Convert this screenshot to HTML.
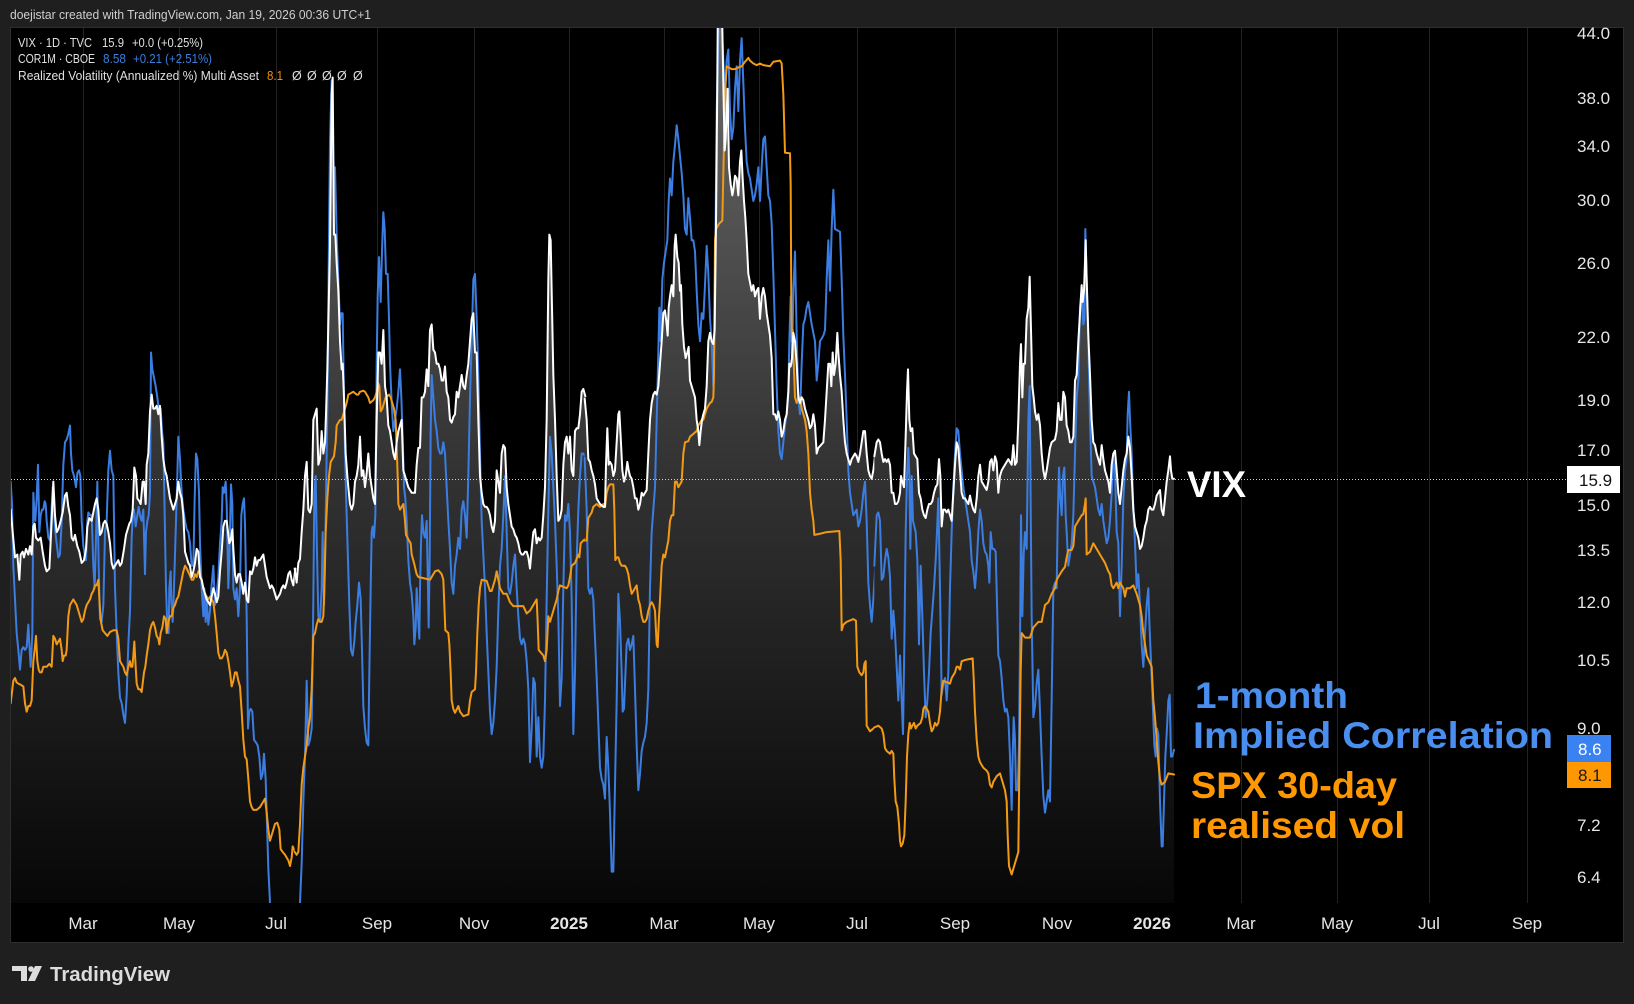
<!DOCTYPE html>
<html><head><meta charset="utf-8"><style>
html,body{margin:0;padding:0;background:#1f1f1f;}
svg{display:block;}
text{font-family:"Liberation Sans",sans-serif;}
</style></head><body>
<svg width="1634" height="1004" viewBox="0 0 1634 1004" xmlns="http://www.w3.org/2000/svg">
<defs>
<clipPath id="plot"><rect x="11" y="28" width="1554" height="875"/></clipPath>
<linearGradient id="fg" gradientUnits="userSpaceOnUse" x1="0" y1="0" x2="0" y2="1562">
<stop offset="0" stop-color="#6a6a6a"/><stop offset="0.5" stop-color="#333"/><stop offset="1" stop-color="#070707"/>
</linearGradient>
</defs>
<rect width="1634" height="1004" fill="#1f1f1f"/>
<text x="10" y="19" font-size="13" fill="#cfcfcf" textLength="361" lengthAdjust="spacingAndGlyphs">doejistar created with TradingView.com, Jan 19, 2026 00:36 UTC+1</text>
<rect x="10.5" y="27.5" width="1613" height="915" fill="#000" stroke="#2e2e2e" stroke-width="1"/>
<g stroke="#222" stroke-width="1">
<line x1="83.5" y1="28" x2="83.5" y2="903"/><line x1="179.5" y1="28" x2="179.5" y2="903"/><line x1="276.5" y1="28" x2="276.5" y2="903"/>
<line x1="377.5" y1="28" x2="377.5" y2="903"/><line x1="474.5" y1="28" x2="474.5" y2="903"/><line x1="569.5" y1="28" x2="569.5" y2="903"/>
<line x1="664.5" y1="28" x2="664.5" y2="903"/><line x1="759.5" y1="28" x2="759.5" y2="903"/><line x1="857.5" y1="28" x2="857.5" y2="903"/>
<line x1="955.5" y1="28" x2="955.5" y2="903"/><line x1="1057.5" y1="28" x2="1057.5" y2="903"/><line x1="1152.5" y1="28" x2="1152.5" y2="903"/>
<line x1="1241.5" y1="28" x2="1241.5" y2="903"/><line x1="1337.5" y1="28" x2="1337.5" y2="903"/><line x1="1429.5" y1="28" x2="1429.5" y2="903"/>
<line x1="1527.5" y1="28" x2="1527.5" y2="903"/>
</g>
<g clip-path="url(#plot)">
<g fill="none" stroke-width="2" stroke-linejoin="round" stroke-linecap="round">
<!-- chunk A -->
<g transform="translate(0,27) scale(0.333333,0.5612)">
<polygon fill="url(#fg)" stroke="none" points="32,860 38,900 45,945 52,940 58,985 62,940 68,935 72,945 78,930 85,940 90,925 95,940 100,890 104,885 108,910 115,915 122,910 128,935 135,960 140,970 148,965 155,880 160,810 165,870 170,900 175,895 182,880 188,865 195,835 200,830 205,855 210,870 215,910 220,915 225,905 232,925 238,935 245,955 252,950 258,930 262,890 268,875 275,880 280,865 285,850 290,840 295,860 300,905 305,900 310,885 315,880 320,885 325,900 330,920 335,955 340,965 345,960 350,955 355,950 360,960 365,955 372,930 378,905 383,895 388,885 393,880 398,860 403,785 408,800 412,840 418,845 422,850 428,810 432,810 437,850 440,780 445,760 450,685 455,655 460,680 465,680 470,675 475,690 480,675 485,730 490,770 495,790 500,800 505,820 510,840 515,850 520,860 525,850 530,840 535,810 540,830 545,840 550,870 555,935 560,945 565,955 570,960 575,980 580,970 585,955 590,930 595,935 600,980 605,985 610,1000 615,1010 620,1020 625,1025 630,1030 635,1015 640,1000 645,1010 650,1025 655,1015 660,970 665,935 670,890 675,880 680,880 685,905 688,920 692,915 697,895 700,930 705,975 710,990 715,975 720,975 725,990 730,1010 735,990 740,1020 745,1025 750,970 755,975 760,965 765,945 770,960 775,950 780,950 785,945 790,940 795,960 800,980 805,990 810,1000 815,995 820,1000 825,1010 830,1020 835,1015 840,1010 845,1000 850,995 855,1000 860,990 865,975 870,970 875,985 880,995 886,965 886,1566 32,1566"/>
<polyline stroke="#3b7de0" vector-effect="non-scaling-stroke" points="32,810 36,850 40,960 45,1020 50,1080 55,1110 60,1145 65,1110 70,1105 75,1110 80,1105 85,1065 88,1100 92,1140 97,1080 100,830 103,865 106,880 110,840 114,780 118,900 122,870 126,860 130,860 134,845 137,850 140,880 145,910 150,915 153,880 158,820 162,860 166,900 170,920 175,945 180,940 185,880 190,780 195,740 200,735 205,725 210,710 213,760 217,790 222,800 228,820 232,795 237,790 241,800 245,880 250,925 255,940 258,950 262,880 265,865 270,870 275,870 280,960 284,1000 288,910 292,810 296,960 300,1055 305,1060 310,1030 315,900 320,880 325,790 330,755 335,790 340,800 345,1000 350,1080 355,1150 360,1195 365,1205 370,1225 375,1240 380,1190 385,1100 390,1040 395,910 398,875 402,860 407,890 412,870 416,855 420,870 425,880 430,860 435,975 438,900 442,880 446,870 450,830 453,580 457,610 462,625 467,640 472,660 477,685 482,680 486,720 490,740 495,900 498,1000 502,1070 506,1080 508,1000 512,970 514,1020 518,1060 520,1035 524,960 528,880 532,800 535,730 540,770 545,830 550,860 555,880 560,895 565,900 570,920 575,960 580,960 584,840 588,760 592,770 597,830 600,920 605,1000 610,1050 613,1000 617,1060 620,1020 625,1065 630,1040 634,1000 640,960 645,1030 650,1010 655,980 660,920 665,880 668,820 672,830 677,810 680,850 685,1000 688,950 693,815 697,850 700,1000 705,1020 710,1000 715,1050 720,1000 724,870 728,850 732,840 735,885 740,1050 744,1250 748,1220 752,1215 757,1220 762,1270 768,1275 773,1280 778,1300 783,1340 788,1330 792,1295 797,1340 800,1400 805,1500 810,1560 815,1600 840,1650 886,1660"/>
<polyline stroke="#f29a16" vector-effect="non-scaling-stroke" points="32,1205 36,1185 40,1165 45,1160 50,1168 55,1170 62,1172 70,1175 75,1205 80,1220 85,1210 90,1210 95,1200 100,1130 104,1110 108,1085 112,1130 116,1145 120,1150 125,1150 130,1140 140,1140 148,1135 155,1140 160,1085 165,1090 170,1100 175,1095 180,1090 185,1110 188,1130 192,1120 197,1120 200,1110 205,1050 210,1030 215,1025 220,1020 225,1025 230,1030 235,1040 240,1050 245,1060 250,1055 255,1040 260,1030 265,1025 270,1020 275,1010 280,1005 285,995 290,995 295,985 300,1040 303,1060 308,1075 315,1080 322,1085 330,1078 340,1075 350,1075 355,1090 360,1130 365,1135 370,1140 375,1150 380,1155 385,1140 390,1130 393,1140 397,1140 400,1120 403,1095 407,1140 410,1170 415,1180 420,1180 425,1185 428,1170 432,1150 436,1140 440,1120 445,1100 450,1075 455,1065 460,1060 465,1070 470,1085 475,1090 478,1100 482,1080 487,1070 492,1050 497,1055 500,1080 505,1060 510,1050 515,1050 520,1035 525,1030 530,1020 535,1015 540,1000 545,985 550,970 555,960 560,965 568,975 575,985 580,985 585,975 590,980 595,970 600,975 605,985 610,1000 615,1010 620,1015 625,1020 630,1015 635,1020 640,1025 645,1050 650,1080 655,1115 660,1125 665,1125 670,1120 675,1110 680,1115 685,1130 690,1150 695,1175 700,1165 705,1150 710,1150 715,1165 720,1175 725,1220 730,1270 735,1300 740,1305 745,1340 750,1380 755,1390 760,1395 770,1395 780,1390 790,1380 795,1375 800,1400 805,1430 810,1450 815,1440 820,1430 825,1420 832,1418 838,1430 842,1465 848,1470 855,1475 860,1480 865,1485 870,1495 875,1480 878,1460 882,1465 886,1470"/>
<polyline stroke="#ffffff" vector-effect="non-scaling-stroke" points="32,860 38,900 45,945 52,940 58,985 62,940 68,935 72,945 78,930 85,940 90,925 95,940 100,890 104,885 108,910 115,915 122,910 128,935 135,960 140,970 148,965 155,880 160,810 165,870 170,900 175,895 182,880 188,865 195,835 200,830 205,855 210,870 215,910 220,915 225,905 232,925 238,935 245,955 252,950 258,930 262,890 268,875 275,880 280,865 285,850 290,840 295,860 300,905 305,900 310,885 315,880 320,885 325,900 330,920 335,955 340,965 345,960 350,955 355,950 360,960 365,955 372,930 378,905 383,895 388,885 393,880 398,860 403,785 408,800 412,840 418,845 422,850 428,810 432,810 437,850 440,780 445,760 450,685 455,655 460,680 465,680 470,675 475,690 480,675 485,730 490,770 495,790 500,800 505,820 510,840 515,850 520,860 525,850 530,840 535,810 540,830 545,840 550,870 555,935 560,945 565,955 570,960 575,980 580,970 585,955 590,930 595,935 600,980 605,985 610,1000 615,1010 620,1020 625,1025 630,1030 635,1015 640,1000 645,1010 650,1025 655,1015 660,970 665,935 670,890 675,880 680,880 685,905 688,920 692,915 697,895 700,930 705,975 710,990 715,975 720,975 725,990 730,1010 735,990 740,1020 745,1025 750,970 755,975 760,965 765,945 770,960 775,950 780,950 785,945 790,940 795,960 800,980 805,990 810,1000 815,995 820,1000 825,1010 830,1020 835,1015 840,1010 845,1000 850,995 855,1000 860,990 865,975 870,970 875,985 880,995 886,965"/>
</g>
<!-- chunk B -->
<g transform="translate(290,27) scale(0.333333,0.5612)">
<polygon fill="url(#fg)" stroke="none" points="14,965 20,990 25,955 30,948 35,900 40,860 45,800 50,775 55,860 60,865 65,850 70,700 75,690 80,680 85,780 90,770 95,720 100,760 105,740 108,690 112,610 116,500 120,390 125,120 128,90 132,370 136,370 140,420 145,470 150,560 155,610 158,600 162,660 167,760 172,800 175,820 180,850 185,860 190,850 195,810 200,800 205,780 210,730 215,800 220,790 225,820 230,795 235,760 240,800 245,820 250,840 255,850 260,700 265,580 270,580 275,600 280,540 285,640 290,660 295,710 300,720 305,740 310,760 315,770 320,740 325,720 330,710 335,700 340,790 345,800 350,810 355,820 360,825 365,830 375,830 380,780 385,750 390,750 395,660 400,660 405,650 410,610 415,640 420,540 425,530 430,575 435,580 440,600 445,600 450,610 455,630 460,630 465,605 470,650 475,660 480,700 485,705 490,695 495,690 500,650 505,660 510,640 515,620 520,640 525,645 530,620 535,600 540,560 545,520 550,510 555,580 560,580 565,700 570,800 575,830 580,850 585,855 590,855 595,860 600,870 605,890 610,900 615,880 620,790 625,810 630,830 635,760 640,745 645,750 650,820 655,850 660,870 665,890 670,895 675,905 680,910 685,920 690,935 695,940 700,940 705,935 710,935 715,945 720,965 725,930 730,900 735,895 740,920 745,910 750,915 755,910 760,870 765,820 770,700 775,450 778,370 782,380 786,500 790,620 795,700 800,800 805,880 810,875 815,860 820,780 825,740 830,730 835,760 840,730 845,790 850,800 855,720 860,715 865,715 870,690 875,650 880,645 886,658 886,1566 14,1566"/>
<polyline stroke="#3b7de0" vector-effect="non-scaling-stroke" points="14,1660 30,1560 35,1490 40,1380 45,1300 50,1165 55,1280 60,1270 65,1250 70,1020 73,830 77,800 80,910 85,1050 90,1060 95,1000 98,900 102,1030 105,960 108,840 112,680 116,430 120,200 125,95 130,250 135,250 140,370 145,450 150,530 153,510 158,510 163,700 168,830 173,930 178,1030 183,1110 188,1120 193,1095 197,1060 202,1030 207,990 212,1020 216,1110 220,1210 225,1250 230,1275 235,1280 238,1150 242,1000 245,900 248,890 252,910 256,870 260,600 263,480 267,410 272,490 276,400 280,330 284,360 288,440 293,440 297,520 300,600 305,670 310,720 315,700 320,680 325,650 330,610 334,660 338,730 342,820 346,840 350,880 355,950 360,990 365,1010 370,1050 373,1100 377,1070 380,1000 383,1040 388,1090 390,1000 393,920 396,870 400,900 405,910 410,880 414,1000 416,1070 419,950 422,720 425,620 430,660 435,700 440,720 445,750 450,760 455,760 460,740 465,760 470,820 475,880 480,930 485,990 490,1010 495,960 500,940 505,910 510,930 515,860 520,845 525,870 530,910 535,800 540,660 545,560 550,450 555,440 560,520 565,620 570,760 575,880 580,940 585,1000 590,1080 595,1150 600,1220 605,1260 610,1240 615,1200 620,1140 625,1040 630,960 635,930 640,870 645,800 650,900 655,1000 660,1010 665,990 670,960 675,940 680,1000 685,1050 690,1090 695,1100 700,1090 705,1100 710,1130 715,1180 720,1310 725,1250 730,1160 735,1170 740,1300 745,1230 750,1300 755,1320 760,1300 765,1200 770,1020 775,860 780,730 785,760 790,820 795,880 800,960 805,1050 810,1210 815,1160 820,1000 825,870 830,880 835,850 840,900 845,1020 850,1260 855,1150 860,950 865,860 870,800 875,760 880,760 886,766"/>
<polyline stroke="#f29a16" vector-effect="non-scaling-stroke" points="14,1470 20,1475 25,1470 30,1420 35,1350 40,1320 45,1300 50,1280 55,1250 60,1230 65,1180 70,1085 75,1080 80,1065 85,1055 90,1060 95,1060 100,1050 103,1000 107,900 112,840 117,800 122,775 127,770 132,765 137,740 140,710 145,705 150,700 155,700 160,690 165,680 170,670 175,655 190,650 200,655 205,655 210,650 220,648 225,650 230,655 235,660 240,670 250,665 255,660 260,650 265,635 268,640 272,685 277,680 282,670 287,660 297,655 302,660 307,670 312,680 317,700 320,750 323,800 325,850 330,860 340,850 345,880 348,905 357,915 362,920 365,940 372,955 380,975 385,980 400,982 420,985 425,980 435,970 445,968 455,975 460,985 463,1030 466,1075 475,1080 478,1100 482,1150 485,1200 490,1215 495,1222 505,1210 510,1220 520,1228 535,1225 540,1200 545,1185 555,1180 558,1150 562,1080 566,1030 570,1000 575,985 590,987 600,1005 605,1005 610,995 615,985 620,970 625,985 630,1000 640,1010 650,1010 660,1025 670,1032 700,1032 710,1045 720,1040 740,1020 743,1060 746,1110 760,1120 765,1130 770,1110 775,1050 780,1060 790,1040 800,1020 805,1005 810,995 830,1000 835,995 840,980 845,960 855,955 865,940 868,945 872,920 880,915 886,912"/>
<polyline stroke="#ffffff" vector-effect="non-scaling-stroke" points="14,965 20,990 25,955 30,948 35,900 40,860 45,800 50,775 55,860 60,865 65,850 70,700 75,690 80,680 85,780 90,770 95,720 100,760 105,740 108,690 112,610 116,500 120,390 125,120 128,90 132,370 136,370 140,420 145,470 150,560 155,610 158,600 162,660 167,760 172,800 175,820 180,850 185,860 190,850 195,810 200,800 205,780 210,730 215,800 220,790 225,820 230,795 235,760 240,800 245,820 250,840 255,850 260,700 265,580 270,580 275,600 280,540 285,640 290,660 295,710 300,720 305,740 310,760 315,770 320,740 325,720 330,710 335,700 340,790 345,800 350,810 355,820 360,825 365,830 375,830 380,780 385,750 390,750 395,660 400,660 405,650 410,610 415,640 420,540 425,530 430,575 435,580 440,600 445,600 450,610 455,630 460,630 465,605 470,650 475,660 480,700 485,705 490,695 495,690 500,650 505,660 510,640 515,620 520,640 525,645 530,620 535,600 540,560 545,520 550,510 555,580 560,580 565,700 570,800 575,830 580,850 585,855 590,855 595,860 600,870 605,890 610,900 615,880 620,790 625,810 630,830 635,760 640,745 645,750 650,820 655,850 660,870 665,890 670,895 675,905 680,910 685,920 690,935 695,940 700,940 705,935 710,935 715,945 720,965 725,930 730,900 735,895 740,920 745,910 750,915 755,910 760,870 765,820 770,700 775,450 778,370 782,380 786,500 790,620 795,700 800,800 805,880 810,875 815,860 820,780 825,740 830,730 835,760 840,730 845,790 850,800 855,720 860,715 865,715 870,690 875,650 880,645 886,658"/>
</g>
<!-- chunk C -->
<g transform="translate(580,27) scale(0.333333,0.5612)">
<polygon fill="url(#fg)" stroke="none" points="14,662 20,700 25,770 30,775 35,790 40,800 45,815 50,840 55,845 60,850 70,855 75,855 78,780 82,715 86,780 90,775 95,780 100,800 105,790 110,740 115,690 118,685 122,730 127,790 132,810 137,800 142,775 146,790 150,800 155,805 160,820 165,840 170,840 175,860 180,850 185,830 190,835 200,825 205,760 210,700 215,670 220,655 225,650 230,655 235,640 240,600 245,560 250,510 255,505 260,530 263,550 266,500 270,480 275,460 280,480 284,390 287,370 292,410 296,420 300,470 303,460 307,530 312,570 317,590 322,580 326,570 330,630 335,640 340,650 345,660 350,700 355,720 358,745 362,720 366,700 370,690 375,680 380,640 385,560 390,545 395,560 400,565 404,540 408,350 411,160 414,-60 425,-60 430,100 434,220 437,200 440,150 443,110 447,250 452,280 457,300 460,290 465,265 470,270 475,300 480,240 484,220 488,270 492,310 496,340 500,380 505,440 510,455 515,470 520,460 525,480 530,470 535,465 540,520 545,480 550,465 555,480 560,510 565,530 570,550 575,590 580,690 585,690 590,700 595,685 600,700 605,730 610,720 615,700 620,690 625,650 628,600 632,605 636,590 640,545 645,560 650,600 655,660 660,670 665,660 670,665 675,680 680,690 685,700 690,715 695,710 700,690 705,710 710,760 715,750 730,740 735,700 740,650 745,600 750,600 754,640 758,580 762,620 767,600 772,545 775,580 780,620 785,650 790,700 795,740 800,760 805,770 810,780 815,770 825,760 830,765 835,775 840,760 845,740 850,720 855,720 860,760 865,790 870,800 875,805 880,790 886,760 886,1566 14,1566"/>
<polyline stroke="#3b7de0" vector-effect="non-scaling-stroke" points="14,768 20,860 25,1000 30,1010 35,1000 40,1020 45,1090 50,1160 55,1240 60,1320 65,1340 70,1350 75,1375 80,1265 85,1320 90,1400 95,1505 100,1505 105,1350 110,1200 115,1010 120,1060 125,1150 128,1220 132,1215 135,1170 140,1100 145,1090 150,1110 155,1100 160,1085 165,1180 170,1280 175,1360 180,1330 185,1290 190,1275 195,1265 200,1240 205,1180 210,1000 215,900 220,860 225,820 230,700 235,580 238,500 242,560 247,450 252,420 257,400 262,380 266,310 270,270 275,300 280,240 285,210 290,175 295,200 300,230 305,260 310,300 315,360 320,370 325,305 330,340 335,380 340,380 345,400 350,470 355,530 360,560 365,510 370,520 375,460 380,390 385,440 390,520 395,560 400,640 403,560 406,400 410,150 415,30 420,-20 425,-10 430,60 435,120 440,60 445,40 450,150 455,200 460,180 465,110 470,70 475,150 480,60 485,20 490,100 495,180 500,240 505,260 510,270 515,290 520,310 525,300 530,280 535,250 540,310 545,250 550,200 555,195 560,250 565,300 570,310 575,350 580,440 585,540 590,640 595,720 600,760 605,770 610,740 615,710 620,690 625,650 628,560 632,480 636,600 640,470 645,400 650,550 655,660 660,690 665,600 670,530 675,520 680,500 685,490 690,510 695,530 700,545 705,560 710,630 715,600 720,560 730,550 735,540 740,450 745,380 750,470 755,360 760,290 765,360 780,365 785,450 790,550 795,620 800,700 805,790 810,830 815,850 820,870 825,865 830,860 835,890 840,880 845,860 850,830 855,810 860,880 865,990 870,1030 875,1060 880,1020 886,960"/>
<polyline stroke="#f29a16" vector-effect="non-scaling-stroke" points="14,915 20,915 25,875 30,870 35,865 40,855 50,850 60,855 70,850 75,855 80,830 85,820 90,815 100,815 103,860 106,950 110,945 115,945 120,955 125,960 135,960 140,965 145,975 150,995 155,1010 160,1005 170,995 175,1020 180,1030 185,1050 190,1060 195,1060 200,1055 205,1040 210,1030 215,1025 220,1030 225,1040 230,1100 233,1105 237,1050 240,1020 245,960 250,940 255,945 260,930 265,915 270,880 275,870 280,870 285,810 290,810 295,820 300,815 305,810 310,760 315,740 325,738 330,730 340,725 350,720 355,710 365,700 370,700 375,690 380,680 390,670 395,668 400,660 402,620 405,380 408,360 418,350 427,345 430,260 433,180 437,100 440,70 455,75 465,75 475,72 485,70 495,62 505,55 510,60 520,65 530,68 540,65 550,68 570,70 580,62 600,60 605,65 610,120 615,224 630,225 632,280 634,500 636,560 638,540 640,580 645,660 650,670 655,660 660,660 665,680 670,690 675,700 680,720 685,760 690,830 695,860 700,880 703,905 720,903 740,900 778,898 782,950 785,1075 790,1065 800,1060 820,1055 828,1058 832,1140 838,1150 845,1155 850,1150 853,1135 857,1130 860,1245 870,1255 880,1250 886,1247"/>
<polyline stroke="#ffffff" vector-effect="non-scaling-stroke" points="14,662 20,700 25,770 30,775 35,790 40,800 45,815 50,840 55,845 60,850 70,855 75,855 78,780 82,715 86,780 90,775 95,780 100,800 105,790 110,740 115,690 118,685 122,730 127,790 132,810 137,800 142,775 146,790 150,800 155,805 160,820 165,840 170,840 175,860 180,850 185,830 190,835 200,825 205,760 210,700 215,670 220,655 225,650 230,655 235,640 240,600 245,560 250,510 255,505 260,530 263,550 266,500 270,480 275,460 280,480 284,390 287,370 292,410 296,420 300,470 303,460 307,530 312,570 317,590 322,580 326,570 330,630 335,640 340,650 345,660 350,700 355,720 358,745 362,720 366,700 370,690 375,680 380,640 385,560 390,545 395,560 400,565 404,540 408,350 411,160 414,-60 425,-60 430,100 434,220 437,200 440,150 443,110 447,250 452,280 457,300 460,290 465,265 470,270 475,300 480,240 484,220 488,270 492,310 496,340 500,380 505,440 510,455 515,470 520,460 525,480 530,470 535,465 540,520 545,480 550,465 555,480 560,510 565,530 570,550 575,590 580,690 585,690 590,700 595,685 600,700 605,730 610,720 615,700 620,690 625,650 628,600 632,605 636,590 640,545 645,560 650,600 655,660 660,670 665,660 670,665 675,680 680,690 685,700 690,715 695,710 700,690 705,710 710,760 715,750 730,740 735,700 740,650 745,600 750,600 754,640 758,580 762,620 767,600 772,545 775,580 780,620 785,650 790,700 795,740 800,760 805,770 810,780 815,770 825,760 830,765 835,775 840,760 845,740 850,720 855,720 860,760 865,790 870,800 875,805 880,790 886,760"/>
</g>
<!-- chunk D -->
<g transform="translate(875,27) scale(0.333333,0.5612)">
<polygon fill="url(#fg)" stroke="none" points="-2,765 5,740 10,735 15,740 20,760 25,775 30,770 35,775 40,770 45,780 50,830 55,830 60,850 65,850 70,845 75,830 78,800 82,810 87,820 92,730 96,650 99,610 103,700 107,720 112,715 117,760 122,765 127,770 132,830 137,840 142,860 147,870 152,875 157,860 162,850 167,850 172,845 177,830 182,820 187,815 192,770 196,800 200,890 205,860 210,860 215,865 220,860 225,870 230,880 235,830 240,780 245,740 250,750 255,790 260,830 265,840 270,840 275,845 280,850 285,835 290,850 295,860 300,865 305,840 310,800 315,780 320,810 325,815 330,820 335,825 340,810 345,775 350,770 355,790 360,765 365,775 370,830 375,800 380,790 385,785 390,780 400,770 405,775 410,780 415,745 420,780 425,775 430,700 435,600 438,565 442,660 446,600 450,600 455,520 460,500 464,445 468,540 472,640 476,660 480,685 485,700 490,690 495,710 500,760 505,790 510,805 515,790 520,770 525,750 530,740 540,735 545,720 550,670 555,700 560,700 565,650 570,660 575,710 580,720 585,740 590,740 595,730 600,630 605,620 610,560 615,510 620,460 623,490 627,470 630,420 632,380 635,450 640,550 645,620 650,700 655,740 660,745 665,760 670,770 675,780 680,745 685,770 690,790 695,800 700,810 705,830 710,780 715,760 720,755 725,790 730,830 735,850 740,820 745,790 750,770 755,760 760,730 765,750 770,800 775,860 780,890 785,900 790,910 795,930 800,925 805,910 810,890 815,880 820,860 825,855 830,860 835,860 840,850 845,835 850,830 855,825 860,860 865,870 870,840 875,810 880,790 885,765 888,790 892,805 897,805 897,1566 -2,1566"/>
<polyline stroke="#3b7de0" vector-effect="non-scaling-stroke" points="-2,960 5,870 10,865 15,880 20,985 25,980 30,950 35,930 40,945 45,980 50,1090 55,1040 60,1080 65,1140 70,1200 75,1120 80,1200 84,1260 88,1100 92,900 96,800 100,750 103,800 106,930 110,800 114,880 118,890 122,900 127,950 132,1100 137,960 142,1050 147,1150 152,1230 157,1200 162,1150 167,1080 172,1040 177,1000 182,950 186,900 190,840 195,1000 200,1190 205,1170 210,1160 215,1200 220,1150 225,1000 230,900 235,820 240,760 245,715 250,720 255,760 260,790 265,820 270,840 275,860 280,880 285,900 290,950 295,970 300,1000 305,960 310,900 315,860 320,880 325,920 330,935 335,940 340,960 343,990 347,900 352,930 357,930 362,935 367,1050 370,1120 375,1130 380,1160 385,1200 390,1220 395,1215 400,1230 405,1300 410,1395 413,1300 416,1230 420,1270 423,1360 428,1360 432,1280 435,1100 438,870 442,1050 446,940 450,900 455,930 460,700 464,640 467,850 470,1050 475,1230 480,1210 485,1170 490,1145 495,1220 500,1300 505,1370 510,1400 515,1380 520,1360 525,1380 530,1200 535,1000 540,990 545,1000 548,880 552,785 556,840 560,870 564,800 568,785 572,870 575,900 580,960 585,940 590,920 595,870 600,760 605,660 610,630 615,500 620,470 625,530 628,520 631,360 635,450 640,560 645,700 650,800 655,810 660,820 665,840 670,860 675,870 680,850 685,880 690,900 695,920 700,910 705,880 710,830 715,770 720,790 725,900 730,920 735,1050 740,960 745,840 750,790 755,770 758,690 762,650 765,700 770,760 775,860 780,920 785,1000 790,975 795,1030 800,1100 805,1140 810,1080 815,1030 820,1000 823,1060 828,1130 833,1200 838,1280 842,1300 846,1250 850,1260 855,1380 860,1460 863,1460 867,1380 871,1300 875,1260 880,1200 884,1190 888,1300 892,1300 897,1288"/>
<polyline stroke="#f29a16" vector-effect="non-scaling-stroke" points="-2,1248 10,1245 20,1250 25,1260 30,1285 35,1290 45,1295 50,1290 55,1295 58,1340 62,1380 67,1390 72,1420 75,1450 78,1460 83,1455 88,1440 92,1380 96,1300 100,1260 104,1240 108,1250 112,1245 117,1240 122,1250 127,1245 137,1240 142,1230 145,1215 150,1210 160,1220 165,1240 170,1255 175,1250 180,1240 185,1245 190,1240 195,1220 200,1180 205,1165 225,1170 230,1160 240,1150 245,1140 250,1140 255,1145 260,1130 270,1128 293,1125 296,1160 300,1220 305,1270 310,1300 315,1310 325,1320 335,1325 340,1330 345,1350 350,1355 355,1345 365,1335 375,1330 380,1340 385,1350 390,1360 395,1380 398,1440 402,1495 410,1510 420,1490 430,1470 433,1320 437,1150 440,1080 450,1088 465,1088 475,1070 490,1060 500,1060 505,1045 510,1030 520,1025 530,1010 540,1000 545,985 560,970 570,962 575,945 580,932 590,932 595,925 600,890 610,880 620,870 625,868 630,850 632,840 635,940 645,935 655,920 670,935 680,945 690,955 700,970 705,975 710,995 715,1000 725,990 730,1000 735,990 745,1000 750,1015 755,1000 765,1000 775,995 785,1010 790,1020 795,1030 800,1050 805,1080 810,1100 815,1120 830,1140 835,1200 840,1230 845,1270 850,1310 855,1340 860,1350 870,1345 880,1330 897,1332"/>
<polyline stroke="#ffffff" vector-effect="non-scaling-stroke" points="-2,765 5,740 10,735 15,740 20,760 25,775 30,770 35,775 40,770 45,780 50,830 55,830 60,850 65,850 70,845 75,830 78,800 82,810 87,820 92,730 96,650 99,610 103,700 107,720 112,715 117,760 122,765 127,770 132,830 137,840 142,860 147,870 152,875 157,860 162,850 167,850 172,845 177,830 182,820 187,815 192,770 196,800 200,890 205,860 210,860 215,865 220,860 225,870 230,880 235,830 240,780 245,740 250,750 255,790 260,830 265,840 270,840 275,845 280,850 285,835 290,850 295,860 300,865 305,840 310,800 315,780 320,810 325,815 330,820 335,825 340,810 345,775 350,770 355,790 360,765 365,775 370,830 375,800 380,790 385,785 390,780 400,770 405,775 410,780 415,745 420,780 425,775 430,700 435,600 438,565 442,660 446,600 450,600 455,520 460,500 464,445 468,540 472,640 476,660 480,685 485,700 490,690 495,710 500,760 505,790 510,805 515,790 520,770 525,750 530,740 540,735 545,720 550,670 555,700 560,700 565,650 570,660 575,710 580,720 585,740 590,740 595,730 600,630 605,620 610,560 615,510 620,460 623,490 627,470 630,420 632,380 635,450 640,550 645,620 650,700 655,740 660,745 665,760 670,770 675,780 680,745 685,770 690,790 695,800 700,810 705,830 710,780 715,760 720,755 725,790 730,830 735,850 740,820 745,790 750,770 755,760 760,730 765,750 770,800 775,860 780,890 785,900 790,910 795,930 800,925 805,910 810,890 815,880 820,860 825,855 830,860 835,860 840,850 845,835 850,830 855,825 860,860 865,870 870,840 875,810 880,790 885,765 888,790 892,805 897,805"/>
</g>
</g>
</g>
<line x1="11" y1="479.5" x2="1566" y2="479.5" stroke="#cfcfcf" stroke-width="1" stroke-dasharray="1 2"/>
<!-- legend -->
<g font-size="12.5" fill="#e0e0e0">
<text x="18" y="47" textLength="74" lengthAdjust="spacingAndGlyphs">VIX · 1D · TVC</text>
<text x="102" y="47" textLength="22" lengthAdjust="spacingAndGlyphs">15.9</text>
<text x="132" y="47" textLength="71" lengthAdjust="spacingAndGlyphs">+0.0 (+0.25%)</text>
<text x="18" y="63" textLength="77" lengthAdjust="spacingAndGlyphs">COR1M · CBOE</text>
<text x="103" y="63" fill="#3a7fe0" textLength="23" lengthAdjust="spacingAndGlyphs">8.58</text>
<text x="133" y="63" fill="#3a7fe0" textLength="79" lengthAdjust="spacingAndGlyphs">+0.21 (+2.51%)</text>
<text x="18" y="80" textLength="241" lengthAdjust="spacingAndGlyphs">Realized Volatility (Annualized %) Multi Asset</text>
<text x="267" y="80" fill="#f0900a" textLength="16" lengthAdjust="spacingAndGlyphs">8.1</text>
<text x="292" y="80">Ø</text><text x="307" y="80">Ø</text><text x="322" y="80">Ø</text><text x="337" y="80">Ø</text><text x="353" y="80">Ø</text>
</g>
<!-- price axis -->
<g font-size="17" fill="#e6e6e6">
<text x="1577" y="39">44.0</text>
<text x="1577" y="104">38.0</text>
<text x="1577" y="152">34.0</text>
<text x="1577" y="206">30.0</text>
<text x="1577" y="269">26.0</text>
<text x="1577" y="343">22.0</text>
<text x="1577" y="406">19.0</text>
<text x="1577" y="456">17.0</text>
<text x="1577" y="511">15.0</text>
<text x="1577" y="556">13.5</text>
<text x="1577" y="608">12.0</text>
<text x="1577" y="666">10.5</text>
<text x="1577" y="734">9.0</text>
<text x="1577" y="831">7.2</text>
<text x="1577" y="883">6.4</text>
</g>
<rect x="1567" y="466" width="53" height="27" fill="#ffffff"/>
<text x="1579" y="486" font-size="17" fill="#111">15.9</text>
<rect x="1567" y="735" width="44" height="27" fill="#3a82f2"/>
<text x="1578" y="755" font-size="17" fill="#ffffff">8.6</text>
<rect x="1567" y="762" width="44" height="26" fill="#ff9800"/>
<text x="1578" y="781" font-size="17" fill="#1a1a1a">8.1</text>
<!-- time axis -->
<g font-size="17" fill="#e6e6e6" text-anchor="middle">
<text x="83" y="929">Mar</text><text x="179" y="929">May</text><text x="276" y="929">Jul</text><text x="377" y="929">Sep</text>
<text x="474" y="929">Nov</text><text x="569" y="929" font-weight="bold">2025</text><text x="664" y="929">Mar</text><text x="759" y="929">May</text>
<text x="857" y="929">Jul</text><text x="955" y="929">Sep</text><text x="1057" y="929">Nov</text><text x="1152" y="929" font-weight="bold">2026</text>
<text x="1241" y="929">Mar</text><text x="1337" y="929">May</text><text x="1429" y="929">Jul</text><text x="1527" y="929">Sep</text>
</g>
<!-- annotations -->
<g font-weight="bold" font-size="37">
<text x="1187" y="497" fill="#ffffff" textLength="59" lengthAdjust="spacingAndGlyphs">VIX</text>
<text x="1195" y="708" fill="#4a8ff0" textLength="153" lengthAdjust="spacingAndGlyphs">1-month</text>
<text x="1193" y="748" fill="#4a8ff0" textLength="360" lengthAdjust="spacingAndGlyphs">Implied Correlation</text>
<text x="1191" y="798" fill="#ff9800" textLength="206" lengthAdjust="spacingAndGlyphs">SPX 30-day</text>
<text x="1191" y="838" fill="#ff9800" textLength="214" lengthAdjust="spacingAndGlyphs">realised vol</text>
</g>
<!-- footer logo -->
<g fill="#dcdcdc">
<rect x="12" y="966" width="15" height="5"/>
<rect x="21" y="966" width="6" height="15"/>
<circle cx="31" cy="969" r="2.8"/>
<polygon points="35,966 42,966 35,981 28,981"/>
</g>
<text x="50" y="981" font-size="20" font-weight="bold" fill="#dcdcdc" textLength="120" lengthAdjust="spacingAndGlyphs">TradingView</text>
</svg>
</body></html>
